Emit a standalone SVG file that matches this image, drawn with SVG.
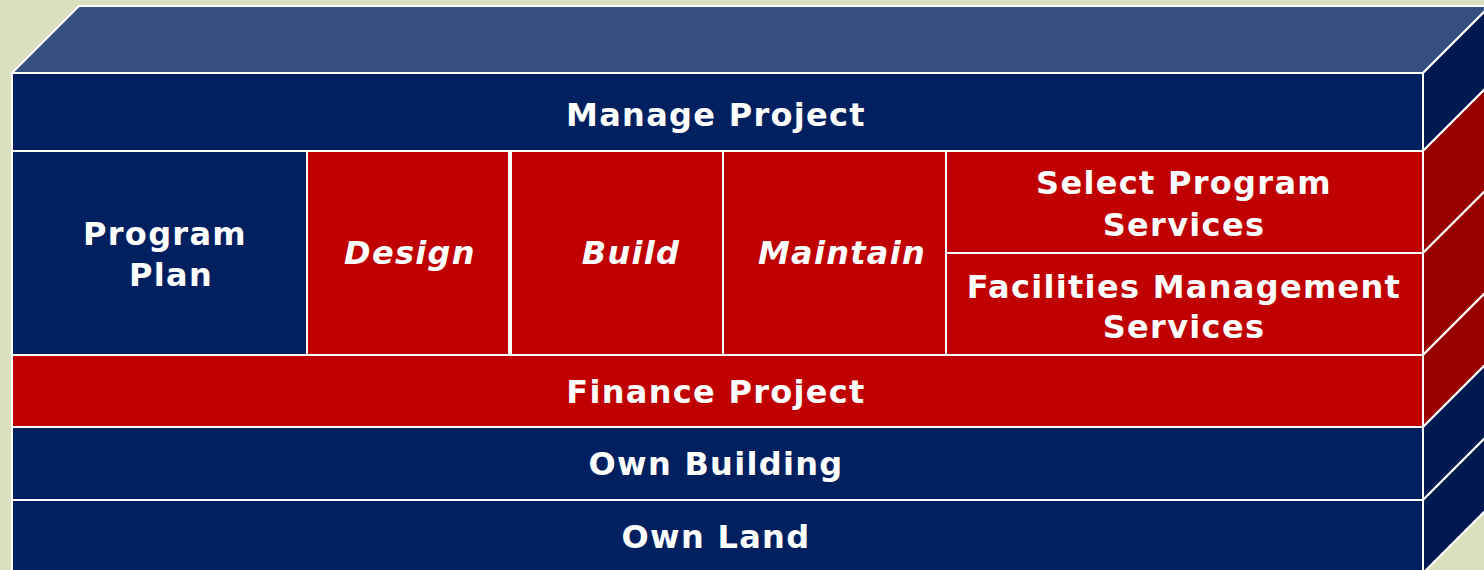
<svg xmlns="http://www.w3.org/2000/svg" width="1484" height="570" viewBox="0 0 1484 570">
<style>
.ln{stroke:#ffffff;stroke-width:2;stroke-linejoin:miter}
.nv{fill:#002060}
.rd{fill:#C00000}
.snv{fill:#001A4F}
.srd{fill:#990000}
.top{fill:#344F80}
.t{font-family:"DejaVu Sans","Verdana",sans-serif;font-weight:bold;font-size:32px;fill:#ffffff;text-anchor:middle;letter-spacing:1.3px}
.i{font-style:italic}
</style>
<rect width="1484" height="570" fill="#DDE0BF"/>
<g id="top-face">
<polygon class="top ln" points="12,73 79,6 1490,6 1423,73"/>
</g>
<g id="side-faces">
<polygon class="snv ln" points="1423,73 1490,6 1490,84 1423,151"/>
<polygon class="srd ln" points="1423,151 1490,84 1490,186 1423,253"/>
<polygon class="srd ln" points="1423,253 1490,186 1490,288 1423,355"/>
<polygon class="srd ln" points="1423,355 1490,288 1490,360 1423,427"/>
<polygon class="snv ln" points="1423,427 1490,360 1490,433 1423,500"/>
<polygon class="snv ln" points="1423,500 1490,433 1490,506 1423,573"/>
</g>
<g id="manage-project">
<rect class="nv ln" x="12" y="73" width="1411" height="78"/>
<text class="t" x="716" y="126">Manage Project</text>
</g>
<g id="program-plan">
<rect class="nv ln" x="12" y="151" width="295" height="204"/>
<text class="t" x="165" y="245">Program</text>
<text class="t" x="171" y="286">Plan</text>
</g>
<g id="design">
<rect class="rd ln" x="307" y="151" width="202" height="204"/>
<text class="t i" x="410" y="264">Design</text>
</g>
<g id="build">
<rect class="rd ln" x="511" y="151" width="212" height="204"/>
<text class="t i" x="631" y="264">Build</text>
</g>
<g id="maintain">
<rect class="rd ln" x="723" y="151" width="223" height="204"/>
<text class="t i" x="842" y="264">Maintain</text>
</g>
<g id="select-program-services">
<rect class="rd ln" x="946" y="151" width="477" height="102"/>
<text class="t" x="1184" y="194">Select Program</text>
<text class="t" x="1184" y="236">Services</text>
</g>
<g id="facilities-management-services">
<rect class="rd ln" x="946" y="253" width="477" height="102"/>
<text class="t" x="1184" y="298">Facilities Management</text>
<text class="t" x="1184" y="338">Services</text>
</g>
<g id="finance-project">
<rect class="rd ln" x="12" y="355" width="1411" height="72"/>
<text class="t" x="716" y="403">Finance Project</text>
</g>
<g id="own-building">
<rect class="nv ln" x="12" y="427" width="1411" height="73"/>
<text class="t" x="716" y="475">Own Building</text>
</g>
<g id="own-land">
<rect class="nv ln" x="12" y="500" width="1411" height="73"/>
<text class="t" x="716" y="548">Own Land</text>
</g>
<g id="connectors"></g>
</svg>
